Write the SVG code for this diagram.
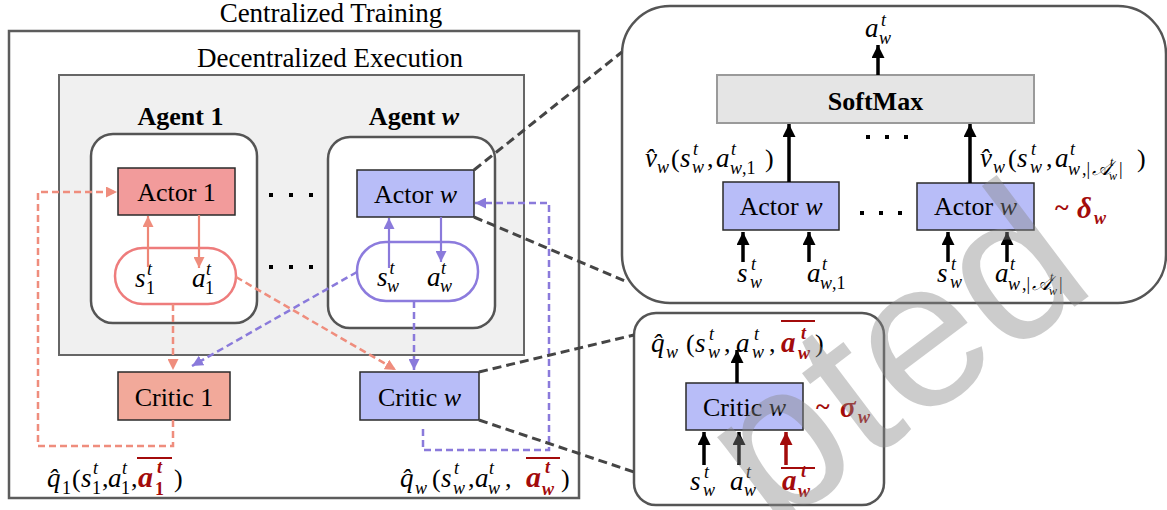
<svg xmlns="http://www.w3.org/2000/svg" width="1167" height="510" viewBox="0 0 1167 510">
<defs>
<style>
text{font-family:"Liberation Serif","Times New Roman",serif;fill:#000}
.t27{font-size:27px}
.lbl{font-size:26px}
.b{font-weight:bold}
.i{font-style:italic}
.m{font-style:italic;font-size:27px}
.s{font-size:18px}
.xs{font-size:12px;font-style:italic}
.red{fill:#A30B0B}
.frame{fill:none;stroke:#5c5c5c;stroke-width:2.5}
.agent{fill:#fff;stroke:#555;stroke-width:2.5}
.node{stroke:#2a2a2a;stroke-width:1.5}
.dk{fill:none;stroke:#454545;stroke-width:3;stroke-dasharray:9 5}
.sd{fill:none;stroke:#EF8D7D;stroke-width:2.5;stroke-dasharray:7 4}
.pd{fill:none;stroke:#8A7ADB;stroke-width:2.5;stroke-dasharray:7 4}
.ss{fill:none;stroke:#EE8676;stroke-width:2.2}
.ps{fill:none;stroke:#8A7ADB;stroke-width:2.2}
.bk{fill:none;stroke:#000;stroke-width:3.5}
.rk{fill:none;stroke:#A30B0B;stroke-width:3.5}
.ov{stroke:#A30B0B;stroke-width:2}
</style>
<marker id="aS" viewBox="0 0 10 10" refX="10" refY="5" markerWidth="11" markerHeight="11" markerUnits="userSpaceOnUse" orient="auto"><path d="M0,0L10,5L0,10z" fill="#EF8D7D"/></marker>
<marker id="aP" viewBox="0 0 10 10" refX="10" refY="5" markerWidth="11" markerHeight="11" markerUnits="userSpaceOnUse" orient="auto"><path d="M0,0L10,5L0,10z" fill="#8A7ADB"/></marker>
<marker id="aK" viewBox="0 0 10 10" refX="10" refY="5" markerWidth="13" markerHeight="13" markerUnits="userSpaceOnUse" orient="auto"><path d="M0,0L10,5L0,10z" fill="#000"/></marker>
<marker id="aR" viewBox="0 0 10 10" refX="10" refY="5" markerWidth="13" markerHeight="13" markerUnits="userSpaceOnUse" orient="auto"><path d="M0,0L10,5L0,10z" fill="#A30B0B"/></marker>
</defs>
<rect width="1167" height="510" fill="#fff"/>

<g id="centralized-training">
<rect class="frame" x="9" y="31" width="570" height="467"/>
<text class="t27" x="331" y="22" text-anchor="middle">Centralized Training</text>
</g>
<g id="decentralized-execution">
<rect x="59" y="75" width="465" height="280" fill="#f0f0f0" stroke="#666" stroke-width="2"/>
<text class="t27" x="330" y="67" text-anchor="middle">Decentralized Execution</text>
</g>

<g id="agent-1">
<rect class="agent" x="91" y="134" width="166" height="189" rx="22"/>
<text class="lbl b" x="180.5" y="125" text-anchor="middle">Agent 1</text>
</g>
<g id="agent-w">
<rect class="agent" x="328" y="137" width="167" height="191" rx="22"/>
<text class="lbl b" x="414" y="125" text-anchor="middle">Agent <tspan class="i">w</tspan></text>
</g>

<g id="actor-1">
<rect class="node" x="118" y="168" width="117" height="47" fill="#F29B9B"/>
<text class="lbl" x="176.5" y="201" text-anchor="middle">Actor 1</text>
</g>
<g id="actor-w">
<rect class="node" x="357" y="170" width="117" height="47" fill="#B8BDF8"/>
<text class="lbl" x="415.5" y="203" text-anchor="middle">Actor <tspan class="i">w</tspan></text>
</g>
<g id="state-action-1">
<rect x="115" y="248" width="121" height="56" rx="28" fill="#fff" stroke="#EE7C7C" stroke-width="2.5"/>
<text class="m" x="135" y="287">s</text><text class="m s" x="147" y="275">t</text><text class="s" x="146" y="294">1</text>
<text class="m" x="192" y="287">a</text><text class="m s" x="206" y="275">t</text><text class="s" x="205" y="294">1</text>
</g>
<g id="state-action-w">
<rect x="357" y="242" width="121" height="59" rx="29" fill="#fff" stroke="#8C7BDD" stroke-width="2.5"/>
<text class="m" x="377" y="286">s</text><text class="m s" x="389.5" y="274">t</text><text class="m s" x="387" y="292">w</text>
<text class="m" x="427" y="286">a</text><text class="m s" x="441" y="274">t</text><text class="m s" x="440" y="292">w</text>
</g>
<g id="critic-1">
<rect class="node" x="118" y="372" width="112" height="48" fill="#F2A99A"/>
<text class="lbl" x="174" y="406" text-anchor="middle">Critic 1</text>
</g>
<g id="critic-w">
<rect class="node" x="360" y="372" width="119" height="48" fill="#B8BDF8"/>
<text class="lbl" x="419.5" y="406" text-anchor="middle">Critic <tspan class="i">w</tspan></text>
</g>
<g id="dots-left" fill="#000">
<rect x="269" y="193" width="4" height="4"/><rect x="289" y="193" width="4" height="4"/><rect x="309" y="193" width="4" height="4"/>
<rect x="269" y="265" width="4" height="4"/><rect x="289" y="265" width="4" height="4"/><rect x="309" y="265" width="4" height="4"/>
</g>
<g id="q1-label">
<text class="m" x="47" y="487">q̂</text><text class="s" x="62" y="494">1</text>
<text class="lbl" x="72" y="487">(</text>
<text class="m" x="81" y="487">s</text><text class="m s" x="93" y="474">t</text><text class="s" x="92" y="494">1</text>
<text class="lbl" x="102" y="487">,</text>
<text class="m" x="108" y="487">a</text><text class="m s" x="122" y="474">t</text><text class="s" x="121" y="494">1</text>
<text class="lbl" x="131" y="487">,</text>
<text class="m b red" x="138" y="487" style="font-size:30px">a</text><text class="m s b red" x="157" y="473">t</text><text class="s b red" x="155" y="495">1</text>
<line class="ov" x1="137" y1="458" x2="172" y2="458"/>
<text class="lbl" x="174" y="487">)</text>
</g>
<g id="qw-label">
<text class="m" x="400" y="487">q̂</text><text class="m s" x="415" y="494">w</text>
<text class="lbl" x="432" y="487">(</text>
<text class="m" x="441" y="487">s</text><text class="m s" x="454" y="474">t</text><text class="m s" x="453" y="494">w</text>
<text class="lbl" x="468" y="487">,</text>
<text class="m" x="475" y="487">a</text><text class="m s" x="489" y="474">t</text><text class="m s" x="488" y="494">w</text>
<text class="lbl" x="505" y="487">,</text>
<text class="m b red" x="526" y="487" style="font-size:30px">a</text><text class="m s b red" x="545" y="473">t</text><text class="m s b red" x="542" y="495">w</text>
<line class="ov" x1="526" y1="458" x2="560" y2="458"/>
<text class="lbl" x="561" y="487">)</text>
</g>

<g id="actor-detail">
<rect class="agent" x="622" y="6" width="544" height="297" rx="48"/>
</g>
<g id="softmax">
<rect x="717" y="75" width="317" height="48" fill="#E5E5E5" stroke="#9a9a9a" stroke-width="2"/>
<text class="lbl b" x="875.5" y="110" text-anchor="middle">SoftMax</text>
</g>
<g id="actor-w-1">
<rect class="node" x="723" y="182" width="116" height="48" fill="#B8BDF8"/>
<text class="lbl" x="781" y="215" text-anchor="middle">Actor <tspan class="i">w</tspan></text>
</g>
<g id="actor-w-n">
<rect class="node" x="917" y="183" width="117" height="47" fill="#B8BDF8"/>
<text class="lbl" x="975.5" y="215" text-anchor="middle">Actor <tspan class="i">w</tspan></text>
</g>
<g id="dots-right" fill="#000">
<rect x="866" y="135" width="4" height="4"/><rect x="885" y="135" width="4" height="4"/><rect x="904" y="135" width="4" height="4"/>
<rect x="860" y="211" width="4" height="4"/><rect x="879" y="211" width="4" height="4"/><rect x="898" y="211" width="4" height="4"/>
</g>
<g id="actor-detail-labels">
<text class="m" x="865" y="37">a</text><text class="m s" x="881" y="26">t</text><text class="m s" x="879" y="44">w</text>
<text class="m" x="645" y="167">v̂</text><text class="m s" x="657" y="173">w</text>
<text class="lbl" x="671" y="167">(</text>
<text class="m" x="680" y="167">s</text><text class="m s" x="693" y="155">t</text><text class="m s" x="692" y="173">w</text>
<text class="lbl" x="707" y="167">,</text>
<text class="m" x="716" y="167">a</text><text class="m s" x="731" y="155">t</text><text class="s" x="730" y="174"><tspan class="i">w</tspan>,1</text>
<text class="lbl" x="765" y="167">)</text>
<text class="m" x="980" y="167">v̂</text><text class="m s" x="993" y="173">w</text>
<text class="lbl" x="1008" y="167">(</text>
<text class="m" x="1017" y="167">s</text><text class="m s" x="1031" y="155">t</text><text class="m s" x="1030" y="173">w</text>
<text class="lbl" x="1046" y="167">,</text>
<text class="m" x="1055" y="167">a</text><text class="m s" x="1070" y="155">t</text>
<text class="s i" x="1068" y="175">w</text><text class="s" x="1082" y="175">,|</text><text class="i" style="font-size:20px" x="1092" y="175">𝒜</text><text class="xs" x="1110" y="166">t</text><text class="xs" x="1109" y="180">w</text><text class="s" x="1119" y="175">|</text>
<text class="lbl" x="1137" y="167">)</text>
<text class="m" x="737" y="282">s</text><text class="m s" x="751" y="270">t</text><text class="m s" x="750" y="288">w</text>
<text class="m" x="807" y="282">a</text><text class="m s" x="822" y="270">t</text><text class="s" x="820" y="289"><tspan class="i">w</tspan>,1</text>
<text class="m" x="937" y="282">s</text><text class="m s" x="951" y="270">t</text><text class="m s" x="950" y="288">w</text>
<text class="m" x="995" y="282">a</text><text class="m s" x="1010" y="270">t</text>
<text class="s i" x="1008" y="290">w</text><text class="s" x="1022" y="290">,|</text><text class="i" style="font-size:20px" x="1032" y="290">𝒜</text><text class="xs" x="1050" y="281">t</text><text class="xs" x="1049" y="295">w</text><text class="s" x="1059" y="290">|</text>
<text class="lbl b red" x="1055" y="216">~</text><text class="b i red" style="font-size:29px" x="1077" y="218">δ</text><text class="m s b red" x="1094" y="224">w</text>
</g>

<g id="critic-detail">
<rect class="agent" x="634" y="313" width="250" height="192" rx="22"/>
</g>
<g id="critic-w-detail">
<rect class="node" x="686" y="383" width="117" height="47" fill="#B8BDF8"/>
<text class="lbl" x="744.5" y="416" text-anchor="middle">Critic <tspan class="i">w</tspan></text>
</g>
<g id="critic-detail-labels">
<text class="m" x="651" y="352">q̂</text><text class="m s" x="666" y="358">w</text>
<text class="lbl" x="686" y="352">(</text>
<text class="m" x="695" y="352">s</text><text class="m s" x="709" y="340">t</text><text class="m s" x="708" y="358">w</text>
<text class="lbl" x="724" y="352">,</text>
<text class="m" x="736" y="352">a</text><text class="m s" x="754" y="340">t</text><text class="m s" x="752" y="358">w</text>
<text class="lbl" x="769" y="352">,</text>
<text class="m b red" x="781" y="352" style="font-size:29px">a</text><text class="m s b red" x="801" y="339">t</text><text class="m s b red" x="798" y="359">w</text>
<line class="ov" x1="781" y1="321" x2="815" y2="321"/>
<text class="lbl" x="815" y="352">)</text>
<text class="lbl b red" x="816" y="415">~</text><text class="b i red" style="font-size:29px" x="840" y="417">σ</text><text class="m s b red" x="858" y="423">w</text>
<text class="m" x="690" y="490">s</text><text class="m s" x="704" y="478">t</text><text class="m s" x="703" y="496">w</text>
<text class="m" x="730" y="490">a</text><text class="m s" x="746" y="478">t</text><text class="m s" x="744" y="496">w</text>
<text class="m b red" x="782" y="490" style="font-size:29px">a</text><text class="m s b red" x="801" y="477">t</text><text class="m s b red" x="798" y="497">w</text>
<line class="ov" x1="781" y1="468" x2="815" y2="468"/>
</g>

<g id="connectors">
<path class="ss" d="M148,267V216" marker-end="url(#aS)"/>
<path class="ss" d="M199,215V268" marker-end="url(#aS)"/>
<path class="ps" d="M389,268V218" marker-end="url(#aP)"/>
<path class="ps" d="M441,217V262" marker-end="url(#aP)"/>
<path class="sd" d="M173,304V370" marker-end="url(#aS)"/>
<path class="sd" d="M236,277L396,370" marker-end="url(#aS)"/>
<path class="sd" d="M173,420V446H38V192H117" marker-end="url(#aS)"/>
<path class="pd" d="M357,272L192,366" marker-end="url(#aP)"/>
<path class="pd" d="M414,301V370" marker-end="url(#aP)"/>
<path class="pd" d="M423,429V450H549V203H475" marker-end="url(#aP)"/>
<path class="dk" d="M474,170L622,52"/>
<path class="dk" d="M474,217L625,281"/>
<path class="dk" d="M479,372L634,335"/>
<path class="dk" d="M479,420L634,472"/>
<path class="bk" d="M878,75V45" marker-end="url(#aK)"/>
<path class="bk" d="M789,182V124" marker-end="url(#aK)"/>
<path class="bk" d="M970,183V124" marker-end="url(#aK)"/>
<path class="bk" d="M743,262V232" marker-end="url(#aK)"/>
<path class="bk" d="M809,262V232" marker-end="url(#aK)"/>
<path class="bk" d="M948,262V232" marker-end="url(#aK)"/>
<path class="bk" d="M1007,262V232" marker-end="url(#aK)"/>
<path class="bk" d="M737,383V350" marker-end="url(#aK)"/>
<path class="bk" d="M704,465V432" marker-end="url(#aK)"/>
<path class="bk" d="M739,465V432" marker-end="url(#aK)"/>
<path class="rk" d="M786,465V432" marker-end="url(#aR)"/>
</g>

<text x="0" y="0" transform="translate(773,534) rotate(-37)" style="font-family:'Liberation Sans',Arial,sans-serif;font-size:210px;fill:#888;opacity:0.42">pted</text>
</svg>
